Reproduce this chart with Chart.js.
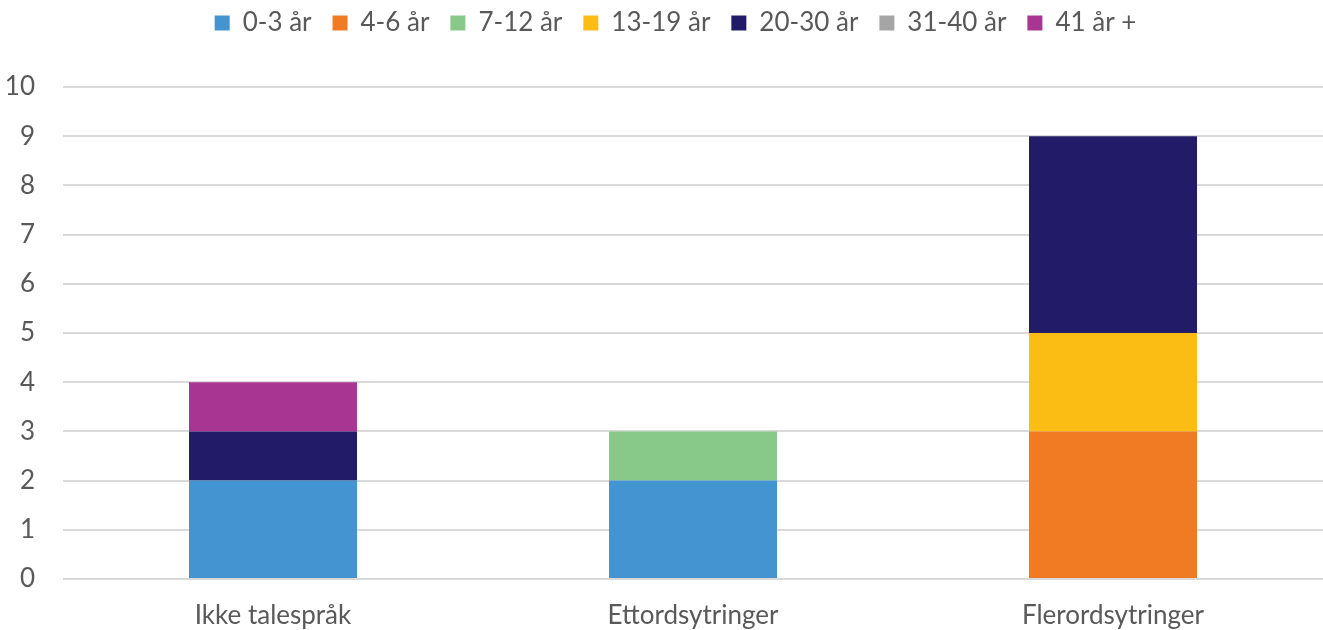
<!DOCTYPE html>
<html>
<head>
<meta charset="utf-8">
<script src="https://cdn.jsdelivr.net/npm/chart.js@4/dist/chart.umd.min.js"></script>
<style>
  html, body { margin: 0; padding: 0; background: #ffffff; }
  #wrap { width: 1323px; height: 630px; }
</style>
</head>
<body>
<div id="wrap"><canvas id="chart" width="1323" height="630"></canvas></div>
<script>
// Antall personer per kommunikasjonsnivå, fordelt på aldersgrupper
const categories = ['Ikke talespråk', 'Ettordsytringer', 'Flerordsytringer'];
const ageGroups = ['0-3 år', '4-6 år', '7-12 år', '13-19 år', '20-30 år', '31-40 år', '41 år +'];
const age0to3   = [2, 2, 0];
const age4to6   = [0, 0, 3];
const age7to12  = [0, 1, 0];
const age13to19 = [0, 0, 2];
const age20to30 = [1, 0, 4];
const age31to40 = [0, 0, 0];
const age41plus = [1, 0, 0];
const yTicks = [0, 1, 2, 3, 4, 5, 6, 7, 8, 9, 10];

const seriesValues = [age0to3, age4to6, age7to12, age13to19, age20to30, age31to40, age41plus];
const colours = ['#4394d0', '#f07b22', '#88c98a', '#fbbc14', '#221c68', '#a5a5a5', '#a93592'];

const FONT = 'Lato';
const TEXT = '#595959';
const SIZE = 26;

// Fixed legend band so the plot starts at the right height; legend centred over the plot area
const legendBand = {
  id: 'legendBand',
  beforeInit(chart) {
    const legend = chart.legend;
    const fit = legend.fit;
    legend.fit = function () {
      fit.call(this);
      this.height = 98;
    };
    const draw = legend.draw;
    legend.draw = function () {
      const ctx = this.ctx;
      ctx.save();
      ctx.translate(14, 0);
      draw.call(this);
      ctx.restore();
    };
  }
};

new Chart(document.getElementById('chart'), {
  type: 'bar',
  data: {
    labels: categories,
    datasets: ageGroups.map((name, i) => ({
      label: name,
      data: seriesValues[i],
      backgroundColor: colours[i],
      borderWidth: 0,
      categoryPercentage: 1,
      barPercentage: 0.4
    }))
  },
  options: {
    responsive: false,
    animation: false,
    devicePixelRatio: 1,
    layout: { padding: { top: -11, left: 0, right: 0, bottom: 0 } },
    plugins: {
      legend: {
        position: 'top',
        labels: {
          boxWidth: 15,
          boxHeight: 15,
          padding: 21,
          color: TEXT,
          font: { family: FONT, size: SIZE }
        }
      },
      tooltip: { enabled: false }
    },
    scales: {
      x: {
        stacked: true,
        grid: { display: false },
        border: { display: false },
        ticks: { color: TEXT, font: { family: FONT, size: SIZE }, padding: 13 },
        afterFit(scale) { scale.height = 51; }
      },
      y: {
        stacked: true,
        min: 0,
        max: 10,
        afterBuildTicks(scale) { scale.ticks = yTicks.map(v => ({ value: v })); },
        grid: { color: '#d9d9d9', lineWidth: 2, drawTicks: false },
        border: { display: false },
        ticks: { color: TEXT, font: { family: FONT, size: SIZE }, padding: 28 },
        afterFit(scale) { scale.width = 63; }
      }
    }
  },
  plugins: [legendBand]
});
</script>
</body>
</html>
